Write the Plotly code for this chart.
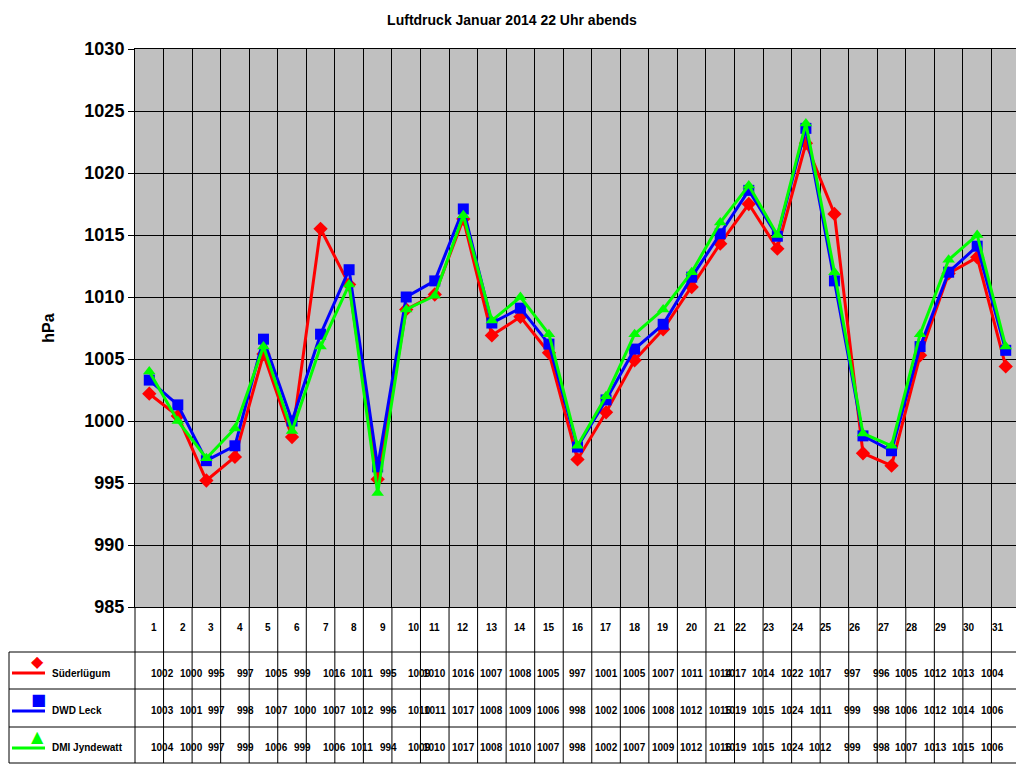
import plotly.graph_objects as go

days = list(range(1, 32))
sued = [1002.2,1000.4,995.2,997.1,1005.4,998.7,1015.5,1011.0,995.3,1009.0,1010.2,1016.3,1006.9,1008.4,1005.5,996.9,1000.7,1004.9,1007.4,1010.8,1014.3,1017.5,1013.9,1022.4,1016.7,997.4,996.4,1005.3,1011.9,1013.2,1004.4]
leck = [1003.3,1001.3,996.8,998.0,1006.6,1000.0,1007.0,1012.2,996.3,1010.0,1011.3,1017.1,1007.9,1009.1,1006.2,997.9,1001.7,1005.8,1007.8,1011.6,1015.1,1018.6,1014.9,1023.6,1011.3,998.8,997.6,1006.0,1012.0,1014.1,1005.7]
dmi = [1004.0,1000.0,997.0,999.4,1006.0,999.2,1006.0,1011.0,994.2,1009.0,1010.1,1016.6,1008.1,1010.0,1007.0,998.0,1002.0,1007.0,1009.0,1012.0,1016.0,1019.0,1015.0,1024.0,1012.0,999.0,998.0,1007.0,1013.0,1015.0,1006.0]
tab_sued = [1002,1000,995,997,1005,999,1016,1011,995,1009,1010,1016,1007,1008,1005,997,1001,1005,1007,1011,1014,1017,1014,1022,1017,997,996,1005,1012,1013,1004]
tab_leck = [1003,1001,997,998,1007,1000,1007,1012,996,1010,1011,1017,1008,1009,1006,998,1002,1006,1008,1012,1015,1019,1015,1024,1011,999,998,1006,1012,1014,1006]
tab_dmi = [1004,1000,997,999,1006,999,1006,1011,994,1009,1010,1017,1008,1010,1007,998,1002,1007,1009,1012,1016,1019,1015,1024,1012,999,998,1007,1013,1015,1006]
names = ["Süderlügum", "DWD Leck", "DMI Jyndewatt"]
colors = ["#FF0000", "#0000FF", "#00FF00"]
symbols = ["diamond", "square", "triangle-up"]

FONT = "Liberation Sans, Arial"
OFF = 8  # page offset
FW, FH = 1024 - OFF, 768 - OFF

fig = go.Figure()
for n, v, c, s in zip(names, [sued, leck, dmi], colors, symbols):
    fig.add_trace(go.Scatter(x=days, y=v, name=n, mode="lines+markers",
                             line=dict(color=c, width=3), marker=dict(symbol=s, size=11, color=c)))

L, R, T, B = 135 - OFF, 1020 - OFF, 49 - OFF, 607 - OFF
W, H = R - L, B - T
def px(x): return (x - OFF - L) / W
def py(y): return (B - (y - OFF)) / H

shapes, ann = [], []
line = dict(color="black", width=1)
for i in range(32):
    xp = i / 31
    shapes.append(dict(type="line", xref="paper", yref="paper", x0=xp, x1=xp, y0=py(607), y1=py(763), line=line))
shapes.append(dict(type="line", xref="paper", yref="paper", x0=px(9), x1=px(9), y0=py(652), y1=py(763), line=line))
for yy in [652, 689, 727, 763]:
    shapes.append(dict(type="line", xref="paper", yref="paper", x0=px(9), x1=1, y0=py(yy), y1=py(yy), line=line))
tf = dict(size=10, family=FONT, color="black", weight="bold")
for d in days:
    ann.append(dict(x=(d - 0.5) / 31, y=py(635), xref="paper", yref="paper", text=str(d), showarrow=False, font=tf))
rows_y = [681, 718, 755]
for tab, ry, n, c, s, ly in zip([tab_sued, tab_leck, tab_dmi], rows_y, names, colors, ["◆", "■", "▲"], [673, 711, 748]):
    for d, v in zip(days, tab):
        ann.append(dict(x=(d - 0.5) / 31, y=py(ry), xref="paper", yref="paper", text=str(v), showarrow=False, font=tf))
    ann.append(dict(x=px(50), y=py(ry), xref="paper", yref="paper", text=n, showarrow=False,
                    xanchor="left", font=tf))
    shapes.append(dict(type="line", xref="paper", yref="paper", x0=px(12), x1=px(45), y0=py(ly), y1=py(ly),
                       line=dict(color=c, width=3)))
    ann.append(dict(x=px(28.5), y=py(ly), xref="paper", yref="paper", text=s, showarrow=False,
                    font=dict(size=16, color=c, family="DejaVu Sans")))

fig.update_layout(
    width=FW, height=FH, margin=dict(l=L, r=FW - R, t=T, b=FH - B),
    paper_bgcolor="white", plot_bgcolor="#C0C0C0", showlegend=False,
    title=dict(text="<b>Luftdruck Januar 2014 22 Uhr abends</b>", x=(512 - OFF) / FW, y=1 - (20 - OFF) / FH,
               xanchor="center", yanchor="middle", font=dict(size=14, family=FONT, color="black")),
    xaxis=dict(range=[0.5, 31.5], tickvals=[i + 0.5 for i in range(31)], showticklabels=False,
               showgrid=True, gridcolor="black", gridwidth=1, zeroline=False, showline=True, linecolor="black", mirror=True),
    yaxis=dict(range=[985, 1030], dtick=5, showgrid=True, gridcolor="black", gridwidth=1, zeroline=False,
               showline=True, linecolor="black", mirror=True, ticks="outside", ticklen=6, tickcolor="black",
               tickfont=dict(size=18, family=FONT, color="black", weight="bold"),
               title=dict(text="<b>hPa</b>", font=dict(size=16, family=FONT, color="black"), standoff=25)),
    shapes=shapes, annotations=ann,
)
fig.write_html("out.html")
